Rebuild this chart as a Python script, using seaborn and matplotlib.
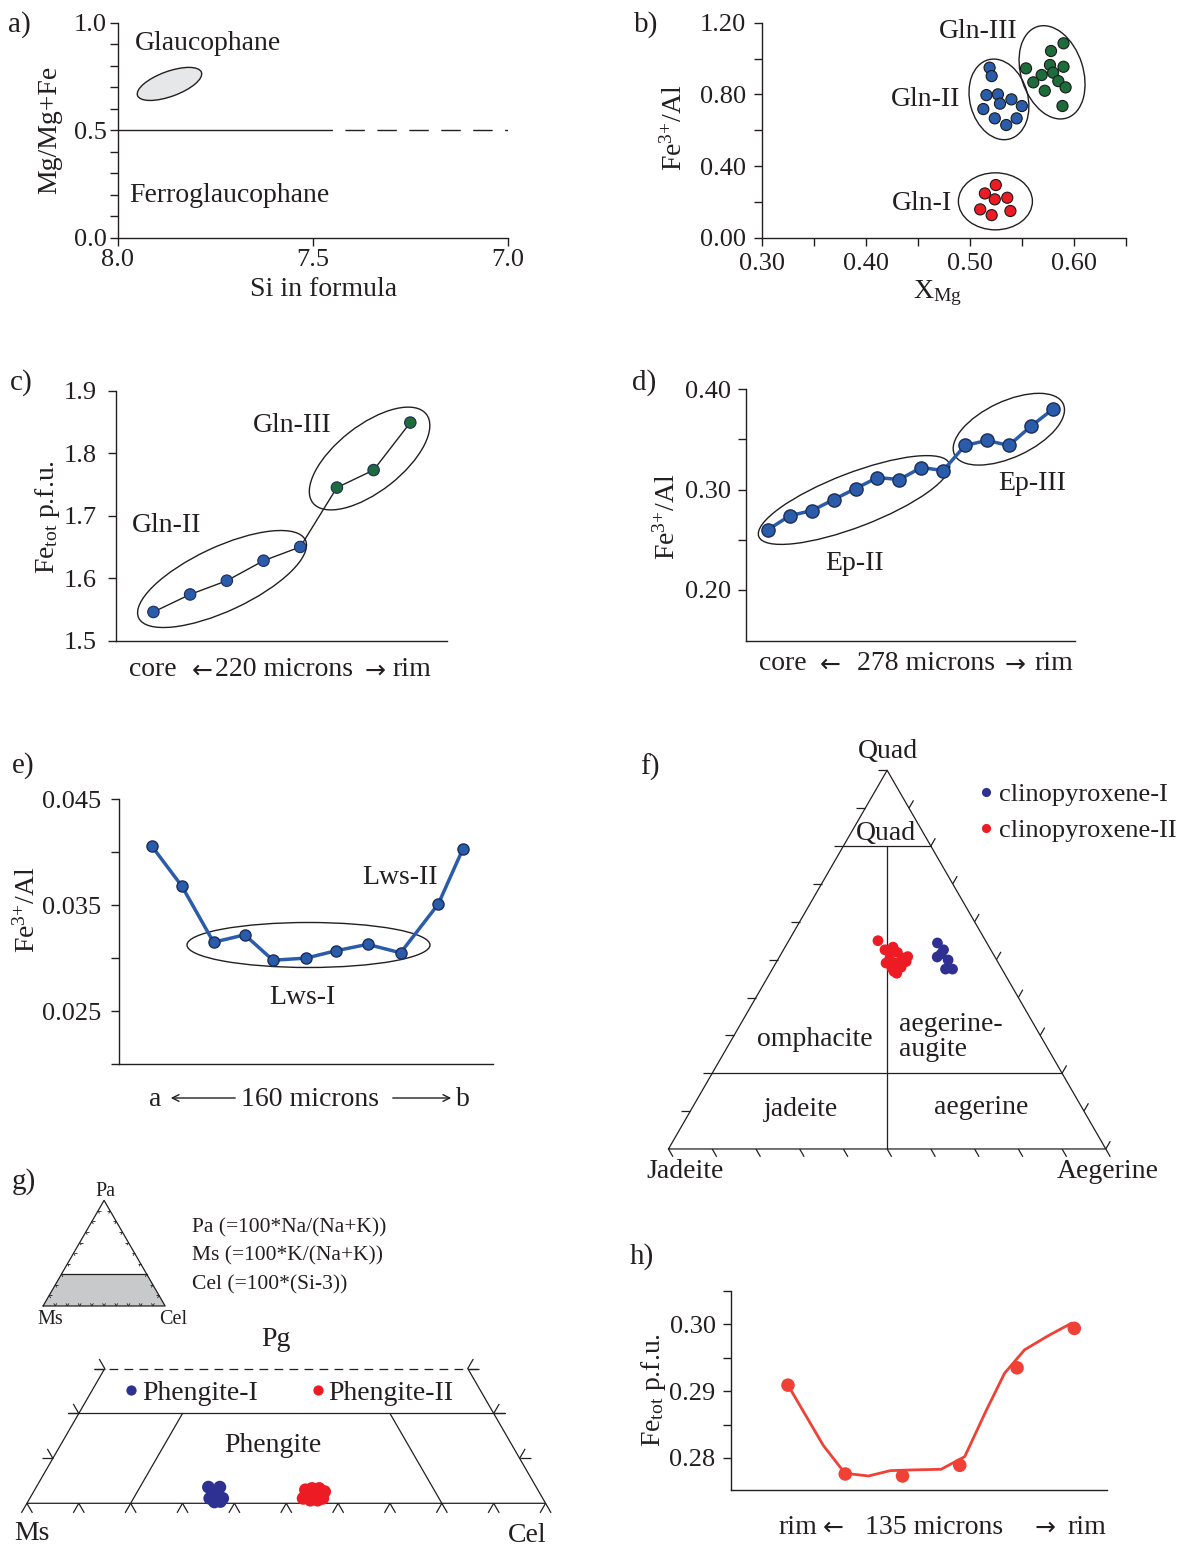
import matplotlib.pyplot as plt
import numpy as np
import pandas as pd
import seaborn as sns
from matplotlib.patches import Ellipse, Polygon
from matplotlib.ticker import FixedLocator
from matplotlib.transforms import ScaledTranslation

# ---- data ----
# b) Fe3+/Al vs XMg of glaucophane generations
b_gln1_xmg = [0.525, 0.5145, 0.524, 0.536, 0.510, 0.521, 0.539]
b_gln1_fe = [0.294, 0.247, 0.214, 0.223, 0.158, 0.126, 0.149]
b_gln2_xmg = [0.519, 0.521, 0.516, 0.527, 0.529, 0.540, 0.513, 0.550, 0.524, 0.535, 0.545]
b_gln2_fe = [0.949, 0.902, 0.796, 0.800, 0.748, 0.772, 0.718, 0.735, 0.666, 0.629, 0.666]
b_gln3_xmg = [0.590, 0.578, 0.554, 0.577, 0.590, 0.569, 0.580, 0.561, 0.585, 0.592, 0.572, 0.589]
b_gln3_fe = [1.085, 1.042, 0.945, 0.964, 0.954, 0.908, 0.921, 0.867, 0.874, 0.839, 0.820, 0.735]

# c) Fe_tot profile in glaucophane (core -> rim)
c_pos = [0, 1, 2, 3, 4, 5, 6, 7]
c_fe = [1.546, 1.574, 1.596, 1.628, 1.650, 1.745, 1.773, 1.849]
c_group = ["Gln-II"] * 5 + ["Gln-III"] * 3

# d) Fe3+/Al profile in epidote
d_pos = list(range(14))
d_ratio = [0.260, 0.274, 0.279, 0.290, 0.301, 0.312, 0.310, 0.322, 0.319,
           0.344, 0.349, 0.344, 0.363, 0.380]

# e) Fe3+/Al profile in lawsonite (a -> b)
e_pos = [0, 0.97, 1.99, 2.99, 3.90, 4.96, 5.93, 6.94, 8.0, 9.21, 10.0]
e_ratio = [0.0406, 0.0368, 0.0315, 0.0322, 0.0298, 0.0300, 0.0307, 0.0313,
           0.0305, 0.0351, 0.0403]

# f) clinopyroxene in Quad-Jadeite-Aegerine (percent)
f_cpx1_quad = [54.4, 52.6, 50.7, 49.9, 47.5, 47.5, 51.5]
f_cpx1_aeg = [34.3, 36.6, 36.1, 39.0, 39.6, 41.2, 36.6]
f_cpx2_quad = [55.0, 52.6, 53.3, 51.9, 49.5, 49.1, 47.8, 46.4, 48.0, 50.4, 50.1,
               49.1, 52.1, 49.1, 50.8, 46.9]
f_cpx2_aeg = [20.4, 23.2, 24.7, 26.4, 29.6, 25.2, 27.2, 29.0, 29.2, 28.4, 25.5,
              27.1, 24.3, 28.2, 29.3, 28.1]

# g) white mica in Ms-Pa-Cel (percent)
g_ph1_pa = [3.6, 3.6, 2.4, 1.1, 1.1, 0.3, 0.4]
g_ph1_cel = [33.2, 35.4, 35.0, 34.7, 37.2, 36.0, 37.1]
g_ph2_pa = [3.0, 3.3, 3.3, 2.6, 1.1, 0.7, 0.7, 1.1, 1.9, 1.9]
g_ph2_cel = [52.2, 53.3, 54.7, 56.1, 52.7, 54.3, 55.7, 56.5, 53.4, 54.8]

# h) Fe_tot profile (rim -> rim)
h_pos = [0, 1, 2, 3, 4, 5]
h_fe = [0.2909, 0.2776, 0.2773, 0.2789, 0.2935, 0.2994]
h_trend_pos = [0.0, 0.615, 0.995, 1.406, 1.787, 2.136, 2.674, 3.086, 3.467,
               3.783, 4.132, 4.544, 4.955]
h_trend_fe = [0.2909, 0.2819, 0.2777, 0.2773, 0.2781, 0.2782, 0.2783, 0.2802,
              0.2872, 0.2927, 0.2962, 0.2983, 0.3002]

# ---- style ----
W, H, DPI = 1186, 1545, 100
INK = "#231F20"
RED = "#ED1C24"
NAVY = "#2E3192"
BLUE = "#2A5CAA"
BLUE_EDGE = "#1C2D5C"
GREEN = "#1E6B3B"
RED_H = "#EF4136"
TICK_FS = 19
TEXT_FS = 20
S3 = np.sqrt(3) / 2
FE3 = r"Fe$^{\text{3+}}$/Al"
FETOT = r"Fe$_{\text{tot}}$ p.f.u."
LEFT, RIGHT = "\u2190", "\u2192"

sns.set_theme(style="ticks")
plt.rcParams["font.family"] = ["Liberation Serif", "DejaVu Serif"]
plt.rcParams["mathtext.fontset"] = "custom"
plt.rcParams["mathtext.rm"] = "Liberation Serif"
plt.rcParams["mathtext.it"] = "Liberation Serif:italic"
plt.rcParams["text.color"] = INK

fig = plt.figure(figsize=(W / DPI, H / DPI), dpi=DPI)


def add_ax(x0, y0, x1, y1):
    return fig.add_axes([x0 / W, 1 - y1 / H, (x1 - x0) / W, (y1 - y0) / H])


def put(x, y, s, size=TEXT_FS, ha="center", va="center", **kw):
    fig.text(x / W, 1 - y / H, s, size=size, ha=ha, va=va, color=INK, **kw)


def arrow_text(y, parts):
    # parts: (x_center, text); arrows drawn in DejaVu Sans so they sit mid-height
    for x, s in parts:
        if s in (LEFT, RIGHT):
            put(x, y + 1, s, size=18, family="DejaVu Sans")
        else:
            put(x, y, s)


def ring(ax, cx, cy, w, h, angle, fill="none"):
    trans = fig.dpi_scale_trans + ScaledTranslation(cx, cy, ax.transData)
    ax.add_patch(Ellipse((0, 0), w / DPI, h / DPI, angle=angle, transform=trans,
                         facecolor=fill, edgecolor=INK, lw=1.0, clip_on=False, zorder=1))


def style(ax, pad=4):
    sns.despine(ax=ax)
    for side in ["left", "bottom"]:
        ax.spines[side].set_color(INK)
        ax.spines[side].set_linewidth(1.0)
    ax.tick_params(which="both", direction="out", length=6, width=1.0, color=INK,
                   labelsize=TICK_FS, labelcolor=INK, pad=pad)
    ax.set_xlabel("")
    ax.set_ylabel("")
    ax.set_facecolor("none")


def yticks(ax, major, labels, minor=()):
    ax.yaxis.set_major_locator(FixedLocator(major))
    ax.set_yticklabels(labels)
    ax.yaxis.set_minor_locator(FixedLocator(list(minor)))


def seg(ax, p, d, length, lw=0.9):
    ax.plot([p[0], p[0] + d[0] * length], [p[1], p[1] + d[1] * length],
            color=INK, lw=lw, solid_capstyle="butt", clip_on=False)


# ---------------- a) ----------------
ax = add_ax(118, 22.5, 508, 238)
ax.plot([8.0, 7.5], [0.5, 0.5], color=INK, lw=1.0)
ax.plot([7.5, 7.0], [0.5, 0.5], color=INK, lw=1.0, dashes=(14, 9))
ax.set_xlim(8.0, 7.0)
ax.set_ylim(0, 1.0)
style(ax, pad=2)
ax.set_xticks([8.0, 7.5, 7.0], ["8.0", "7.5", "7.0"])
yticks(ax, [0, 0.5, 1.0], ["0.0", "0.5", "1.0"], np.arange(0.1, 1.0, 0.1))
ring(ax, 7.868, 0.715, 68, 25, 20, fill="#E6E7E8")
put(8, 25, "a)", size=21, ha="left")
put(208, 43, "Glaucophane")
put(229, 195, "Ferroglaucophane")
put(50, 130, "Mg/Mg+Fe", rotation=90)
put(324, 289, "Si in formula")

# ---------------- b) ----------------
ax = add_ax(761.5, 22.7, 1126, 237.7)
b_df = pd.DataFrame({
    "xmg": b_gln1_xmg + b_gln2_xmg + b_gln3_xmg,
    "fe": b_gln1_fe + b_gln2_fe + b_gln3_fe,
    "gen": ["Gln-I"] * len(b_gln1_fe) + ["Gln-II"] * len(b_gln2_fe) + ["Gln-III"] * len(b_gln3_fe),
})
sns.scatterplot(data=b_df, x="xmg", y="fe", hue="gen",
                palette={"Gln-I": RED, "Gln-II": BLUE, "Gln-III": GREEN},
                s=64, edgecolor="#1a1a1a", linewidth=0.8, legend=False, ax=ax, zorder=3)
ax.set_xlim(0.30, 0.65)
ax.set_ylim(0, 1.2)
style(ax, pad=5)
ax.xaxis.set_major_locator(FixedLocator([0.3, 0.4, 0.5, 0.6]))
ax.set_xticklabels(["0.30", "0.40", "0.50", "0.60"])
ax.xaxis.set_minor_locator(FixedLocator([0.35, 0.45, 0.55, 0.65]))
yticks(ax, [0, 0.4, 0.8, 1.2], ["0.00", "0.40", "0.80", "1.20"], [0.2, 0.6, 1.0])
ring(ax, 0.5246, 0.203, 74, 57, 0)
ring(ax, 0.528, 0.772, 58, 82, 15)
ring(ax, 0.579, 0.923, 62, 96, 18)
put(634, 25, "b)", size=21, ha="left")
put(978, 31, "Gln-III")
put(926, 100, "Gln-II")
put(922, 203, "Gln-I")
put(674, 128, FE3, rotation=90)
put(937, 293, r"X$_{\text{Mg}}$")

# ---------------- c) ----------------
ax = add_ax(116, 390.7, 447, 640.7)
sns.lineplot(x=c_pos, y=c_fe, color=INK, lw=1.0, ax=ax)
sns.scatterplot(x=c_pos, y=c_fe, hue=c_group, palette={"Gln-II": BLUE, "Gln-III": GREEN},
                s=68, edgecolor=BLUE_EDGE, linewidth=0.8, legend=False, ax=ax, zorder=3)
ax.set_xlim(-1.02, 8.0)
ax.set_ylim(1.5, 1.9)
style(ax, pad=8)
ax.set_xticks([])
yticks(ax, [1.5, 1.6, 1.7, 1.8, 1.9], ["1.5", "1.6", "1.7", "1.8", "1.9"])
ring(ax, 1.87, 1.5987, 184, 64, 25)
ring(ax, 5.89, 1.7915, 144, 66, 38)
put(10, 383, "c)", size=21, ha="left")
put(292, 426, "Gln-III")
put(167, 526, "Gln-II")
put(47, 517, FETOT, rotation=90)
arrow_text(670, [(153, "core"), (202, LEFT), (284, "220 microns"), (375, RIGHT), (412, "rim")])

# ---------------- d) ----------------
ax = add_ax(746.3, 389.3, 1075.4, 641)
sns.lineplot(x=d_pos, y=d_ratio, color=BLUE, lw=2.5, marker="o", markersize=9.5,
             markerfacecolor=BLUE, markeredgecolor=BLUE_EDGE, markeredgewidth=1.0, ax=ax)
ax.set_xlim(-0.99, 14.04)
ax.set_ylim(0.149, 0.40)
style(ax, pad=5)
ax.set_xticks([])
yticks(ax, [0.2, 0.3, 0.4], ["0.20", "0.30", "0.40"], [0.25, 0.35])
ring(ax, 3.93, 0.2896, 204, 54, 21)
ring(ax, 11.0, 0.3602, 120, 56, 25)
put(632, 383, "d)", size=21, ha="left")
put(855, 564, "Ep-II")
put(1032, 483, "Ep-III")
put(667, 517, FE3, rotation=90)
arrow_text(664, [(783, "core"), (830, LEFT), (926, "278 microns"), (1015, RIGHT), (1054, "rim")])

# ---------------- e) ----------------
ax = add_ax(119.3, 799.3, 492.7, 1064)
sns.lineplot(x=e_pos, y=e_ratio, color=BLUE, lw=2.5, marker="o", markersize=8,
             markerfacecolor=BLUE, markeredgecolor=BLUE_EDGE, markeredgewidth=1.0, ax=ax)
ax.set_xlim(-1.04, 10.96)
ax.set_ylim(0.020, 0.045)
style(ax, pad=7)
ax.set_xticks([])
yticks(ax, [0.025, 0.035, 0.045], ["0.025", "0.035", "0.045"], [0.020, 0.030, 0.040])
ring(ax, 5.04, 0.03124, 243, 45, 0)
put(12, 766, "e)", size=21, ha="left")
put(400, 877, "Lws-II")
put(302, 998, "Lws-I")
put(27, 910, FE3, rotation=90)
put(155, 1100, "a")
put(310, 1100, "160 microns")
put(463, 1100, "b")
for x0, x1 in [(238, 168), (390, 454)]:
    fig.add_artist(plt.Annotation("", xy=(x1 / W, 1 - 1098 / H), xytext=(x0 / W, 1 - 1098 / H),
                                  xycoords="figure fraction", textcoords="figure fraction",
                                  arrowprops=dict(arrowstyle="->", lw=1.0, color=INK)))

# ---------------- f) ternary Quad-Jd-Ae ----------------
ax = add_ax(630, 735, 1186, 1190)
ax.set_axis_off()
tri = np.array([[0, 0], [1, 0], [0.5, S3], [0, 0]])
ax.plot(tri[:, 0], tri[:, 1], color=INK, lw=0.9)
ax.plot([0.4, 0.6], [0.8 * S3, 0.8 * S3], color=INK, lw=0.9)
ax.plot([0.1, 0.9], [0.2 * S3, 0.2 * S3], color=INK, lw=0.9)
ax.plot([0.5, 0.5], [0, 0.8 * S3], color=INK, lw=0.9)
tl = 9 / 437.3
for k in range(1, 11):
    q = k / 10
    seg(ax, (q / 2, q * S3), (-1, 0), tl)
for k in range(0, 10):
    q = k / 10
    seg(ax, (1 - q / 2, q * S3), (0.5, S3), tl)
for k in range(0, 11):
    seg(ax, (k / 10, 0), (0.5, -S3), tl)

f_quad = np.array(f_cpx1_quad + f_cpx2_quad) / 100
f_aeg = np.array(f_cpx1_aeg + f_cpx2_aeg) / 100
f_df = pd.DataFrame({
    "x": f_aeg + f_quad / 2,
    "y": f_quad * S3,
    "mineral": ["clinopyroxene-I"] * len(f_cpx1_quad) + ["clinopyroxene-II"] * len(f_cpx2_quad),
})
sns.scatterplot(data=f_df, x="x", y="y", hue="mineral",
                hue_order=["clinopyroxene-I", "clinopyroxene-II"], palette=[NAVY, RED],
                s=60, edgecolor="none", ax=ax, zorder=3)
ax.set_xlim(-0.088, 1.1834)
ax.set_ylim(-0.0938, 0.9467)
sns.move_legend(ax, "upper left", bbox_to_anchor=(979 / W, 1 - 783 / H),
                bbox_transform=fig.transFigure, frameon=False, title=None,
                fontsize=19, handlelength=0.5, handletextpad=0.25,
                labelspacing=0.45, markerscale=0.85, borderaxespad=0, borderpad=0)
put(640, 767, "f)", size=21, ha="left")
put(888, 752, "Quad")
put(886, 833, "Quad")
put(815, 1039, "omphacite")
put(899, 1037, "aegerine-\naugite", ha="left", linespacing=0.95)
put(801, 1109, "jadeite")
put(981, 1107, "aegerine")
put(685, 1172, "Jadeite")
put(1108, 1172, "Aegerine")

# ---------------- g) ternary Ms-Pa-Cel ----------------
ax = add_ax(0, 1180, 560, 1545)
ax.set_axis_off()
ax.plot([0.15, 0, 1, 0.85], [0.3 * S3, 0, 0, 0.3 * S3], color=INK, lw=0.9)
gt = 11 / 518.7
ax.plot([0.15 - gt, 0.85 + gt], [0.3 * S3, 0.3 * S3], color=INK, lw=0.9, dashes=(7, 5))
ax.plot([0.1 - gt, 0.9 + gt], [0.2 * S3, 0.2 * S3], color=INK, lw=0.9)
ax.plot([0.2, 0.3], [0, 0.2 * S3], color=INK, lw=0.9)
ax.plot([0.8, 0.7], [0, 0.2 * S3], color=INK, lw=0.9)
for k in range(0, 11):
    seg(ax, (k / 10, 0), (-0.5, -S3), gt)
    seg(ax, (k / 10, 0), (0.5, -S3), gt)
for k in range(1, 4):
    pa = k / 10
    seg(ax, (pa / 2, pa * S3), (-1, 0), gt)
    seg(ax, (pa / 2, pa * S3), (-0.5, S3), gt)
    seg(ax, (1 - pa / 2, pa * S3), (1, 0), gt)
    seg(ax, (1 - pa / 2, pa * S3), (0.5, S3), gt)

g_pa = np.array(g_ph1_pa + g_ph2_pa) / 100
g_cel = np.array(g_ph1_cel + g_ph2_cel) / 100
g_df = pd.DataFrame({
    "x": g_cel + g_pa / 2,
    "y": g_pa * S3,
    "mica": ["Phengite-I"] * len(g_ph1_pa) + ["Phengite-II"] * len(g_ph2_pa),
})
sns.scatterplot(data=g_df, x="x", y="y", hue="mica", hue_order=["Phengite-I", "Phengite-II"],
                palette=[NAVY, RED], s=85, edgecolor="none", ax=ax, zorder=3)
ax.set_xlim(-0.0519, 1.0278)
ax.set_ylim(-0.0804, 0.6233)
sns.move_legend(ax, "center left", bbox_to_anchor=(124 / W, 1 - 1393 / H),
                bbox_transform=fig.transFigure, frameon=False, title=None, ncol=2,
                fontsize=TEXT_FS, handlelength=0.5, handletextpad=0.15,
                columnspacing=1.9, markerscale=0.8, borderaxespad=0, borderpad=0)

# inset triangle
ax = add_ax(20, 1185, 200, 1330)
ax.set_axis_off()
ax.set_xlim(-0.189, 1.286)
ax.set_ylim(-0.197, 0.992)
ax.add_patch(Polygon([[0, 0], [1, 0], [0.85, 0.3 * S3], [0.15, 0.3 * S3]],
                     closed=True, facecolor="#C8C9CB", edgecolor="none"))
ax.plot(tri[:, 0], tri[:, 1], color=INK, lw=0.9)
ax.plot([0.15, 0.85], [0.3 * S3, 0.3 * S3], color=INK, lw=0.9)
it = 3 / 122
for k in range(1, 10):
    f = k / 10
    seg(ax, (f, 0), (-0.5, S3), it, lw=0.6)
    seg(ax, (f, 0), (0.5, S3), it, lw=0.6)
    seg(ax, (f / 2, f * S3), (1, 0), it, lw=0.6)
    seg(ax, (f / 2, f * S3), (0.5, -S3), it, lw=0.6)
    seg(ax, (1 - f / 2, f * S3), (-1, 0), it, lw=0.6)
    seg(ax, (1 - f / 2, f * S3), (-0.5, -S3), it, lw=0.6)

put(12, 1182, "g)", size=21, ha="left")
put(105, 1192, "Pa", size=14.5)
put(50, 1320, "Ms", size=14.5)
put(173, 1320, "Cel", size=14.5)
put(192, 1228, "Pa (=100*Na/(Na+K))", size=15.5, ha="left")
put(192, 1256, "Ms (=100*K/(Na+K))", size=15.5, ha="left")
put(192, 1285, "Cel (=100*(Si-3))", size=15.5, ha="left")
put(276, 1339, "Pg")
put(273, 1446, "Phengite")
put(32, 1534, "Ms")
put(527, 1535, "Cel")

# ---------------- h) ----------------
ax = add_ax(731, 1291, 1107.3, 1490)
sns.lineplot(x=h_trend_pos, y=h_trend_fe, color=RED_H, lw=2.0, sort=False, ax=ax)
sns.scatterplot(x=h_pos, y=h_fe, color=RED_H, s=95, edgecolor="none", ax=ax, zorder=3)
ax.set_xlim(-0.995, 5.576)
ax.set_ylim(0.2752, 0.305)
style(ax, pad=5)
ax.set_xticks([])
yticks(ax, [0.28, 0.29, 0.30], ["0.28", "0.29", "0.30"], [0.285, 0.295, 0.305])
put(630, 1257, "h)", size=21, ha="left")
put(653, 1390, FETOT, rotation=90)
arrow_text(1527, [(798, "rim"), (833, LEFT), (934, "135 microns"), (1045, RIGHT), (1087, "rim")])

fig.savefig("out.png", dpi=DPI)
plt.close(fig)
